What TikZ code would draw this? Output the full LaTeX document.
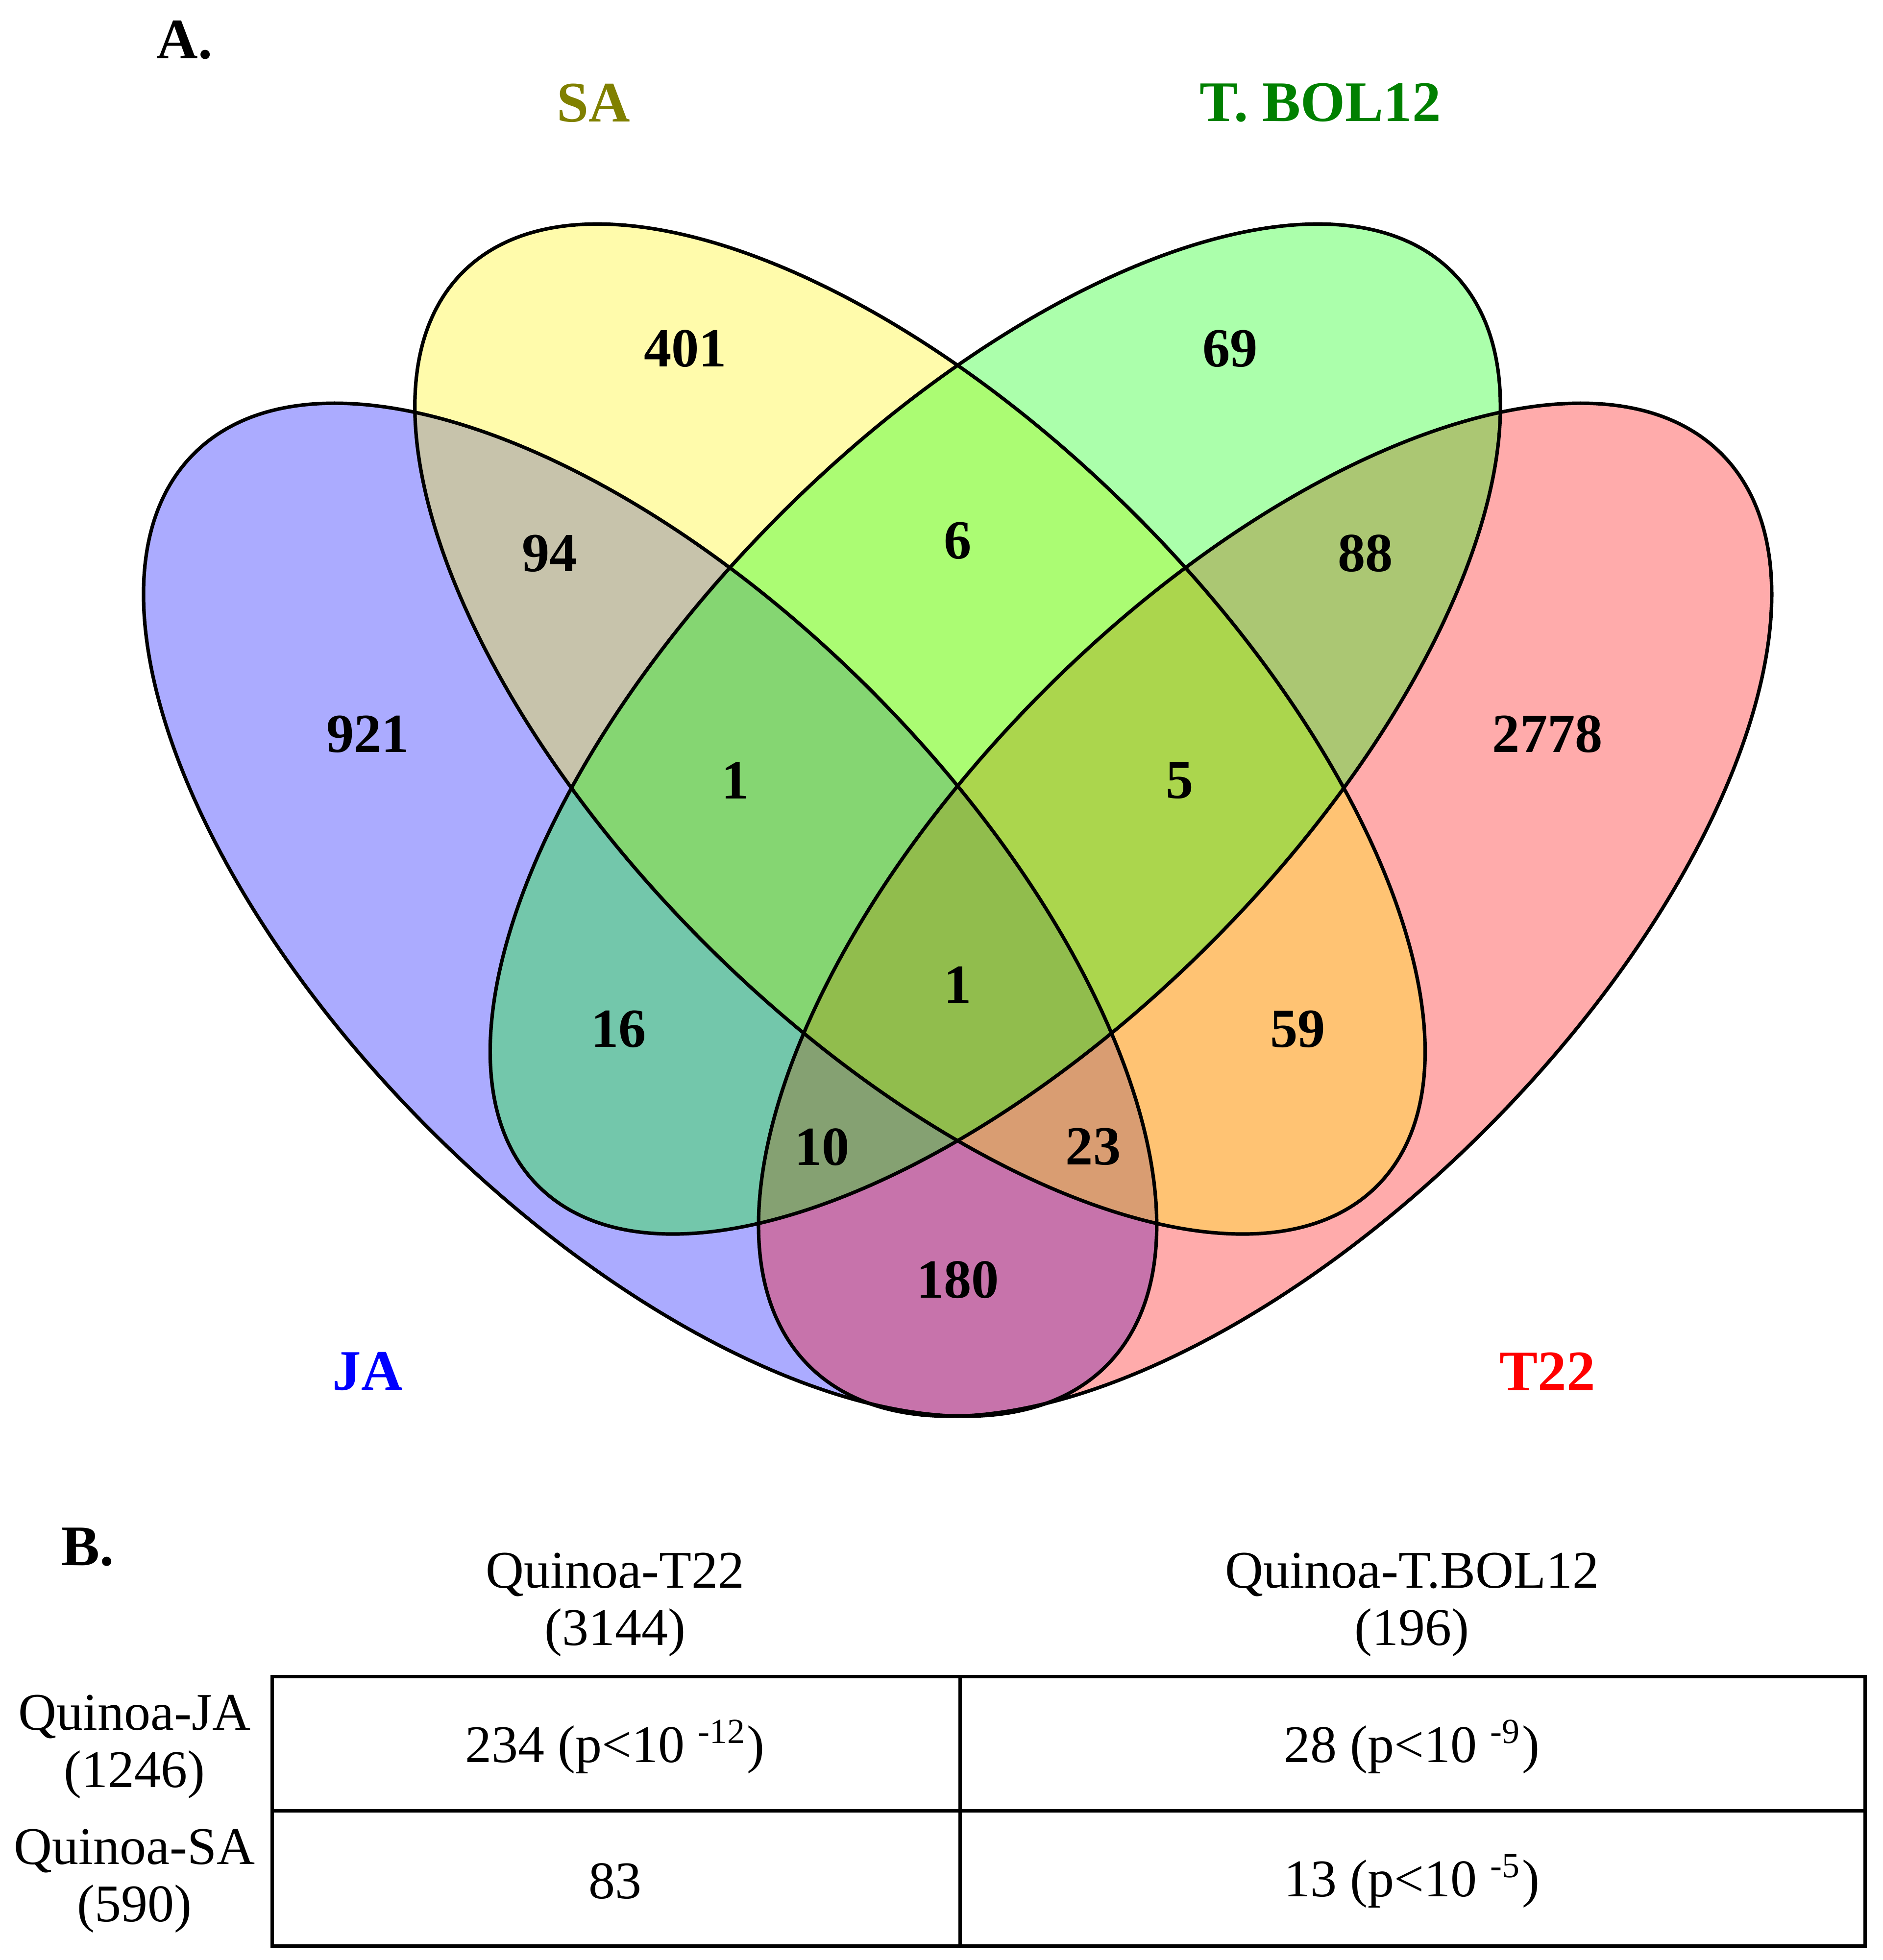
\documentclass[tikz,border=0pt]{standalone}
\usepackage{fontspec}
\setmainfont{Liberation Serif}
\begin{document}
\begin{tikzpicture}[
  num/.style={font=\bfseries\fontsize{12.5}{14}\selectfont},
  lab/.style={font=\bfseries\fontsize{13}{15}\selectfont},
  tb/.style={font=\fontsize{12}{14}\selectfont, align=center},
  el/.style={draw=black, line width=0.8pt}
]
\useasboundingbox (0,0) rectangle (15,15.62);
\fill[blue, fill opacity=0.33, rotate around={-45:(5.18,8.37)}] (5.18,8.37) ellipse (5.14cm and 2.48cm);
\fill[red, fill opacity=0.33, rotate around={45:(10.08,8.37)}] (10.08,8.37) ellipse (5.14cm and 2.48cm);
\fill[yellow, fill opacity=0.33, rotate around={-45:(7.33,9.81)}] (7.33,9.81) ellipse (5.15cm and 2.42cm);
\fill[green, fill opacity=0.33, rotate around={45:(7.93,9.81)}] (7.93,9.81) ellipse (5.15cm and 2.42cm);
\draw[el, rotate around={-45:(5.18,8.37)}] (5.18,8.37) ellipse (5.14cm and 2.48cm);
\draw[el, rotate around={45:(10.08,8.37)}] (10.08,8.37) ellipse (5.14cm and 2.48cm);
\draw[el, rotate around={-45:(7.33,9.81)}] (7.33,9.81) ellipse (5.15cm and 2.42cm);
\draw[el, rotate around={45:(7.93,9.81)}] (7.93,9.81) ellipse (5.15cm and 2.42cm);
\node[lab] (A) at (1.47,15.30) {A.};
\node[lab, text={rgb,255:red,128;green,128;blue,0}] (SA) at (4.73,14.80) {SA};
\node[lab, text={rgb,255:red,0;green,128;blue,0}] (TB) at (10.52,14.80) {T. BOL12};
\node[lab, text=blue] (JA) at (2.93,4.69) {JA};
\node[lab, text=red] (T22) at (12.33,4.69) {T22};
\node[num] (n1) at (5.46,12.84) {401};
\node[num] (n2) at (9.80,12.84) {69};
\node[num] (n3) at (4.38,11.21) {94};
\node[num] (n4) at (7.63,11.31) {6};
\node[num] (n5) at (10.88,11.21) {88};
\node[num] (n6) at (2.93,9.77) {921};
\node[num] (n7) at (5.86,9.40) {1};
\node[num] (n8) at (9.40,9.40) {5};
\node[num] (n9) at (12.33,9.77) {2778};
\node[num] (n10) at (7.63,7.77) {1};
\node[num] (n11) at (4.93,7.42) {16};
\node[num] (n12) at (10.34,7.42) {59};
\node[num] (n13) at (6.55,6.48) {10};
\node[num] (n14) at (8.71,6.48) {23};
\node[num] (n15) at (7.63,5.42) {180};
\node[lab] (B) at (0.70,3.29) {B.};
\draw[line width=0.8pt] (2.17,0.11) rectangle (14.86,2.26);
\draw[line width=0.8pt] (7.65,0.11) -- (7.65,2.26);
\draw[line width=0.8pt] (2.17,1.19) -- (14.86,1.19);
\node[tb] (h1) at (4.90,2.83) {Quinoa-T22\\[-1pt](3144)};
\node[tb] (h2) at (11.25,2.83) {Quinoa-T.BOL12\\[-1pt](196)};
\node[tb] (r1) at (1.07,1.70) {Quinoa-JA\\[-1pt](1246)};
\node[tb] (r2) at (1.07,0.63) {Quinoa-SA\\[-1pt](590)};
\node[tb] (c11) at (4.90,1.70) {234 (p<10 \textsuperscript{-12})};
\node[tb] (c12) at (11.25,1.70) {28 (p<10 \textsuperscript{-9})};
\node[tb] (c21) at (4.90,0.63) {83};
\node[tb] (c22) at (11.25,0.63) {13 (p<10 \textsuperscript{-5})};
\end{tikzpicture}
\end{document}
